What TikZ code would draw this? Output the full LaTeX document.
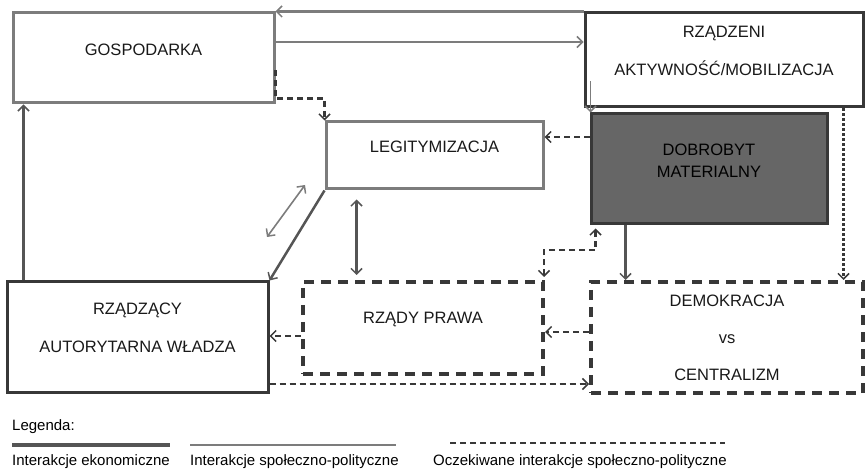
\documentclass[tikz,border=0pt]{standalone}
\usepackage{fontspec}
\setmainfont{Liberation Sans}
\usetikzlibrary{positioning, arrows.meta}

\definecolor{lightline}{HTML}{7C7C7C}
\definecolor{darkline}{HTML}{383838}
\definecolor{econline}{HTML}{555555}
\definecolor{boxfill}{HTML}{666666}

\tikzset{
    block/.style={rectangle, draw, line width=3pt, inner sep=0pt},
    planbox/.style={rectangle, draw=darkline, line width=4pt, inner sep=0pt,
        dash pattern=on 10pt off 7pt},
    caption/.style={align=center, text=black!90, font=\fontsize{16.5}{38}\selectfont},
    legendtext/.style={anchor=west, inner sep=0pt, font=\fontsize{15}{17}\selectfont},
    barb/.style={-{Straight Barb[length=5.5pt,width=11pt,line width=1.5pt]}},
    barbs/.style={{Straight Barb[length=5.5pt,width=11pt,line width=1.5pt]}-{Straight Barb[length=5.5pt,width=11pt,line width=1.5pt]}},
    econ/.style={draw=econline, line width=3.5pt},
    social/.style={draw=lightline, line width=2.2pt},
    expected/.style={draw=darkline, line width=2.3pt, dash pattern=on 6pt off 4pt},
}

\begin{document}
\begin{tikzpicture}[x=1pt, y=-1pt]
    \useasboundingbox (0,0) rectangle (865,470);

    % Add the boxes
        \node[block,
              draw=lightline,
              minimum width=261pt,
              minimum height=90pt] (gosp) at (143.5,58) {};
        \node[caption] (gosp-t) at ([yshift=8pt]gosp.center) {GOSPODARKA};

        \node[block,
              draw=darkline,
              minimum width=278pt,
              minimum height=94pt] (rzadzeni) at (724,60) {};
        \node[caption] (rzadzeni-t) at ([yshift=9pt]rzadzeni.center) {RZĄDZENI\\AKTYWNOŚĆ/MOBILIZACJA};

        \node[block,
              draw=darkline,
              fill=boxfill,
              minimum width=236pt,
              minimum height=110pt] (dobrobyt) at (709,169) {};
        \node[caption,
              font=\fontsize{16.5}{22}\selectfont,
              text=black] (dobrobyt-t) at ([yshift=8pt]dobrobyt.center) {DOBROBYT\\MATERIALNY};

        \node[block,
              draw=lightline,
              minimum width=217pt,
              minimum height=67pt] (legit) at (434.5,155.5) {};
        \node[caption] (legit-t) at ([yshift=8.5pt]legit.center) {LEGITYMIZACJA};

        \node[block,
              draw=darkline,
              minimum width=261pt,
              minimum height=110pt] (rzadzacy) at (137.5,337) {};
        \node[caption] (rzadzacy-t) at ([yshift=9pt]rzadzacy.center) {RZĄDZĄCY\\AUTORYTARNA WŁADZA};

        \node[planbox,
              minimum width=240pt,
              minimum height=92pt] (prawa) at (423,328) {};
        \node[caption] (prawa-t) at ([yshift=8pt]prawa.center) {RZĄDY PRAWA};

        \node[planbox,
              minimum width=272pt,
              minimum height=111pt] (demo) at (727,337.5) {};
        \node[caption,
              font=\fontsize{16.5}{37}\selectfont] (demo-t) at (demo.center) {DEMOKRACJA\\vs\\CENTRALIZM};

    % Free ends
        \coordinate (g-out) at ([yshift=16pt]gosp.east);
        \coordinate (g-dash) at ([yshift=-12pt]gosp.east);
        \coordinate (g-bend) at ([yshift=6pt]gosp.south east);
        \coordinate (r-down) at ([xshift=7pt,yshift=27pt]rzadzeni.south west);
        \coordinate (r-dot) at ([xshift=-21pt]rzadzeni.south east);
        \coordinate (d-left) at ([yshift=32pt]dobrobyt.west);
        \coordinate (d-down) at ([xshift=36pt]dobrobyt.south west);
        \coordinate (d-up) at ([xshift=6pt,yshift=-3pt]dobrobyt.south west);
        \coordinate (p-up) at ([xshift=-1pt,yshift=3pt]prawa.north east);
        \coordinate (p-bend) at ([xshift=-1pt,yshift=30pt]prawa.north east);
        \coordinate (l-pole) at ([xshift=32pt,yshift=-9pt]legit.south west);
        \coordinate (p-pole) at ([xshift=55pt,yshift=5pt]prawa.north west);
        \coordinate (t-a) at (267,237);
        \coordinate (t-b) at (305,185);
        \coordinate (demo-in) at ([yshift=5.5pt]demo.west);
        \coordinate (prawa-in) at ([yshift=-8pt]prawa.west);
        \coordinate (rz-low) at ([yshift=-47pt]rzadzacy.east);
        \coordinate (rz-up) at ([xshift=18pt]rzadzacy.north west);

    % Economic interactions
        \draw[econ, barb] (rz-up) -- (rz-up |- gosp.south);
        \draw[econ, barb] (d-down) -- (d-down |- demo.north);
        \draw[econ, barbs] (l-pole) -- (l-pole |- p-pole);

    % Social and political interactions
        \draw[social, barb] (rzadzeni.north west) -- (gosp.north east);
        \draw[social, barb] (g-out) -- (g-out -| rzadzeni.west);
        \draw[social, line width=1.6pt, barb] (r-down) -- (r-down |- dobrobyt.north);
        \draw[social, line width=1.6pt, barbs] (t-a) -- (t-b);
        \draw[social, draw=econline, line width=2.5pt, barb] (legit.south west) -- (rzadzacy.north east);

    % Expected interactions
        \draw[expected, barb] (g-dash) -- (g-bend) -| (legit.north west);
        \draw[expected, line width=2.8pt, barb] (d-left) -- (d-left -| legit.east);
        \draw[expected, barbs] (p-up) -- (p-bend) -| (d-up);
        \draw[expected, line width=3pt, dash pattern=on 3pt off 2pt, barb] (r-dot) -- (r-dot |- demo.north);
        \draw[expected, barb] (demo-in) -- (demo-in -| prawa.east);
        \draw[expected, barb] (prawa-in) -- (prawa-in -| rzadzacy.east);
        \draw[expected, barb] (rz-low) -- (rz-low -| demo.west);

    % Legend
        \node[legendtext] (leg) at (12,427) {Legenda:};
        \coordinate (leg-a1) at (12,445);
        \coordinate (leg-a2) at (170,445);
        \coordinate (leg-b1) at (190,445);
        \coordinate (leg-b2) at (396,445);
        \coordinate (leg-c1) at (450,443);
        \coordinate (leg-c2) at (725,443);
        \draw[econ] (leg-a1) -- (leg-a2);
        \draw[social, line width=2.5pt] (leg-b1) -- (leg-b2);
        \draw[expected] (leg-c1) -- (leg-c2);
        \node[legendtext] (leg-econ) at (12,462) {Interakcje ekonomiczne};
        \node[legendtext] (leg-social) at (190,462) {Interakcje społeczno-polityczne};
        \node[legendtext] (leg-expected) at (433,462) {Oczekiwane interakcje społeczno-polityczne};
\end{tikzpicture}
\end{document}
